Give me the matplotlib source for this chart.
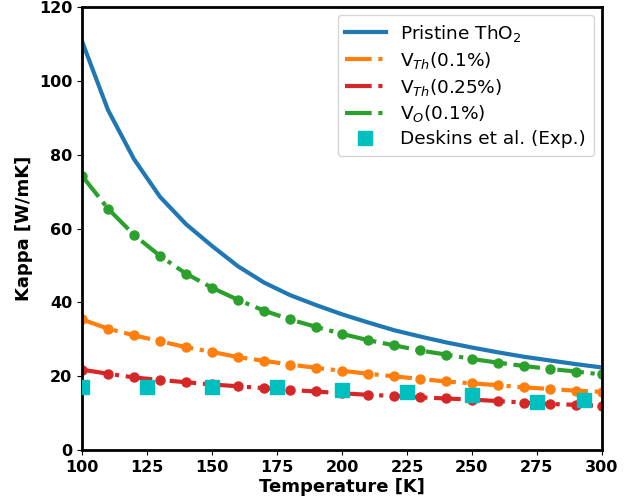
import matplotlib
matplotlib.use("Agg")
import matplotlib.pyplot as plt
from matplotlib.lines import Line2D

temps = [100, 110, 120, 130, 140, 150, 160, 170, 180, 190, 200,
         210, 220, 230, 240, 250, 260, 270, 280, 290, 300]
pristine = [110.7, 92.1, 78.8, 68.6, 61.2, 55.3, 49.8, 45.4, 42.0, 39.3, 36.8,
            34.6, 32.5, 30.8, 29.2, 27.8, 26.5, 25.3, 24.3, 23.3, 22.4]
vth_01 = [35.4, 32.9, 31.1, 29.5, 27.9, 26.6, 25.2, 24.2, 23.2, 22.3, 21.5,
          20.7, 20.0, 19.3, 18.6, 18.1, 17.6, 17.0, 16.6, 16.1, 15.8]
vth_025 = [21.8, 20.7, 19.7, 19.0, 18.4, 17.8, 17.3, 16.8, 16.3, 15.9, 15.4,
           15.0, 14.7, 14.3, 14.0, 13.7, 13.3, 12.9, 12.5, 12.3, 12.0]
vo_01 = [74.3, 65.4, 58.3, 52.6, 47.8, 44.0, 40.7, 37.8, 35.4, 33.4, 31.5,
         29.8, 28.4, 27.0, 25.9, 24.7, 23.7, 22.8, 22.0, 21.3, 20.5]
exp_t = [100, 125, 150, 175, 200, 225, 250, 275, 293]
exp_k = [17.0, 17.0, 17.0, 17.2, 16.2, 15.8, 14.9, 13.0, 13.5]

labels = ['Pristine ThO$_2$', 'V$_{Th}$(0.1%)', 'V$_{Th}$(0.25%)',
          'V$_{O}$(0.1%)', 'Deskins et al. (Exp.)']
colors = ['#1f77b4', '#ff7f0e', '#d62728', '#2ca02c', '#00bfbf']

fig = plt.figure(figsize=(6.41, 5.03), dpi=100)
ax = fig.add_axes([0.128, 0.105, 0.811, 0.881])

ax.plot(temps, pristine, '-', color=colors[0], lw=3)
ax.plot(temps, vth_01, '-.', color=colors[1], lw=3, marker='o', ms=6.5)
ax.plot(temps, vth_025, '-.', color=colors[2], lw=3, marker='o', ms=6.5)
ax.plot(temps, vo_01, '-.', color=colors[3], lw=3, marker='o', ms=6.5)
ax.plot(exp_t, exp_k, 's', color=colors[4], ms=10, ls='none', zorder=3)

ax.set_xlim(100, 300)
ax.set_ylim(0, 120)
ax.set_xticks([100, 125, 150, 175, 200, 225, 250, 275, 300])
ax.set_yticks([0, 20, 40, 60, 80, 100, 120])
ax.set_xlabel('Temperature [K]', fontsize=13, fontweight='bold', labelpad=2)
ax.set_ylabel('Kappa [W/mK]', fontsize=13, fontweight='bold')
for lab in ax.get_xticklabels() + ax.get_yticklabels():
    lab.set_fontweight('bold')
    lab.set_fontsize(11.5)
for sp in ax.spines.values():
    sp.set_linewidth(2)

handles = [
    Line2D([], [], color=colors[0], lw=3, ls='-'),
    Line2D([], [], color=colors[1], lw=3, ls='-.'),
    Line2D([], [], color=colors[2], lw=3, ls='-.'),
    Line2D([], [], color=colors[3], lw=3, ls='-.'),
    Line2D([], [], color=colors[4], marker='s', ms=10, ls='none'),
]
ax.legend(handles, labels, loc='upper right', fontsize=13.3, handlelength=2.2,
          labelspacing=0.32, borderaxespad=0.45)
fig.savefig('out.png', dpi=100)
